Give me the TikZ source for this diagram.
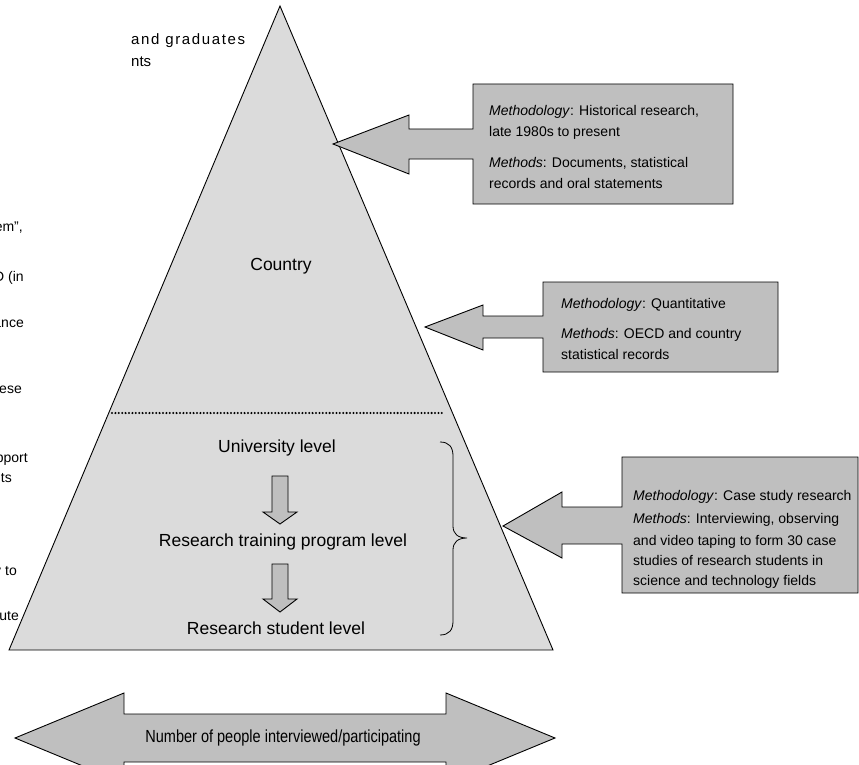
\documentclass[tikz,border=0pt]{standalone}
\usepackage{fontspec}
\setmainfont{Liberation Sans}
\usepackage{graphicx}
\definecolor{pyrfill}{gray}{0.86}
\definecolor{boxfill}{gray}{0.75}
\begin{document}
\begin{tikzpicture}[x=1pt,y=-1pt,
  shape outline/.style={draw=black,line width=0.9pt,line join=miter},
  pyramid/.style={shape outline,fill=pyrfill},
  callout/.style={shape outline,fill=boxfill},
  levellabel/.style={font=\fontsize{17.5}{21}\selectfont,inner sep=0pt},
  noteline/.style={font=\fontsize{14}{17}\selectfont,inner sep=0pt,anchor=base west},
  fragment/.style={font=\fontsize{14}{17}\selectfont,inner sep=0pt,anchor=base east},
  fragmentw/.style={font=\fontsize{15}{17}\selectfont,inner sep=0pt,anchor=base west}]
\useasboundingbox (0,0) rectangle (859,765);
\clip (0,0) rectangle (859,765);

% text running along the left margin
\node[fragmentw] (fa) at (131,45) {\addfontfeatures{LetterSpace=11}and graduates};
\node[fragmentw] (fb) at (131,67) {nts};
\node[fragment] (fc) at (23,231) {em”,};
\node[fragment] (fd) at (24,281) {D (in};
\node[fragment] (fe) at (24,327) {ance};
\node[fragment] (ff) at (22,393) {ese};
\node[fragment] (fg) at (28,462) {pport};
\node[fragment] (fh) at (12,482) {ts};
\node[fragment] (fi) at (17,575) {y to};
\node[fragment] (fj) at (19,620) {ute};

% the pyramid
\draw[pyramid] (280,6) -- (553,650) -- (9,650) -- cycle;
\draw[line width=2.3pt,line cap=round,dash pattern=on 0pt off 3.4pt] (112,413) -- (445,413);

\node[levellabel] (country) at (281,266) {Country};
\node[levellabel] (uni) at (277,448) {University level};
\node[levellabel] (prog) at (283,542) {Research training program level};
\node[levellabel] (stud) at (276,628) {Research student level};

% downward block arrows between the levels
\draw[callout] (272,476) -- (288,476) -- (288,512) -- (297,512) -- (280,524)
  -- (263,512) -- (272,512) -- cycle;
\draw[callout] (272,564) -- (288,564) -- (288,599) -- (297,599) -- (280,612)
  -- (263,599) -- (272,599) -- cycle;

% brace grouping the three lower levels
\draw[line width=0.8pt] (440,442) .. controls (449,442) and (453,447) .. (453,456)
  -- (453,526) .. controls (453,534) and (458,538) .. (467,538)
  .. controls (458,538) and (453,542) .. (453,550)
  -- (453,621) .. controls (453,630) and (449,635) .. (440,635);

% callout: historical research
\draw[callout] (733,84) -- (473,84) -- (473,129) -- (409,129) -- (409,115)
  -- (333,144) -- (409,174) -- (409,159) -- (473,159) -- (473,204)
  -- (733,204) -- cycle;
\node[noteline] (h1) at (489,116) {\textit{Methodology}: Historical research,};
\node[noteline] (h2) at (489,136) {late 1980s to present};
\node[noteline] (h3) at (489,167) {\textit{Methods}: Documents, statistical};
\node[noteline] (h4) at (489,188) {records and oral statements};

% callout: quantitative
\draw[callout] (778,282) -- (543,282) -- (543,316) -- (483,316) -- (483,305)
  -- (425,327) -- (483,350) -- (483,338) -- (543,338) -- (543,372)
  -- (778,372) -- cycle;
\node[noteline] (q1) at (561,308) {\textit{Methodology}: Quantitative};
\node[noteline] (q2) at (561,338) {\textit{Methods}: OECD and country};
\node[noteline] (q3) at (561,359) {statistical records};

% callout: case study research
\draw[callout] (858,457) -- (622,457) -- (622,507) -- (562,507) -- (562,492)
  -- (503,526) -- (562,558) -- (562,544) -- (622,544) -- (622,593)
  -- (858,593) -- cycle;
\node[noteline] (c1) at (633,500) {\textit{Methodology}: Case study research};
\node[noteline] (c2) at (633,523) {\textit{Methods}: Interviewing, observing};
\node[noteline] (c3) at (633,545) {and video taping to form 30 case};
\node[noteline] (c4) at (633,565) {studies of research students in};
\node[noteline] (c5) at (633,585) {science and technology fields};

% double-headed arrow along the bottom
\draw[callout] (15,738) -- (124,693) -- (124,714) -- (446,714) -- (446,693)
  -- (555,738) -- (446,783) -- (446,762) -- (124,762) -- (124,783) -- cycle;
\node[levellabel] (span) at (283,738)
  {\scalebox{0.83}[1]{Number of people interviewed/participating}};
\end{tikzpicture}
\end{document}
